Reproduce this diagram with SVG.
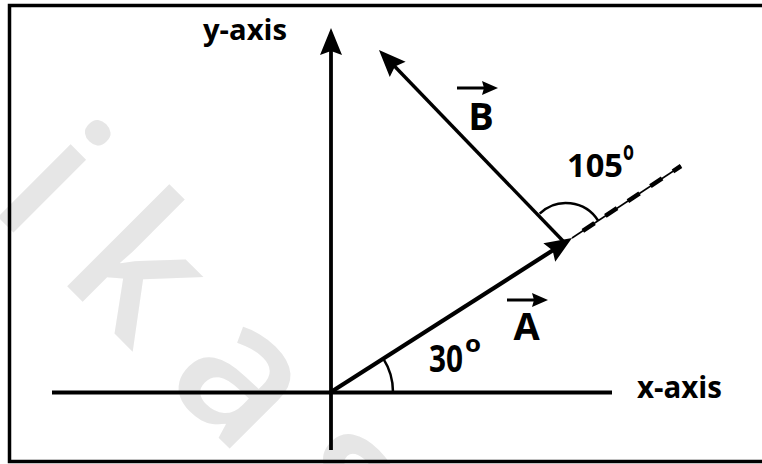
<svg xmlns="http://www.w3.org/2000/svg" width="762" height="464" viewBox="0 0 762 464">
<defs>
<style>
.lbl{font-family:"Open Sans","DejaVu Sans",sans-serif;font-weight:700;fill:#000}
.wm{font-family:"Open Sans","DejaVu Sans",sans-serif;font-weight:600;fill:#e6e6e6}
.ln{stroke:#000;fill:none}
.arc{stroke:#000;fill:none;stroke-width:2.5}
</style>
<marker id="head" markerUnits="userSpaceOnUse" orient="auto" refX="0" refY="0" markerWidth="40" markerHeight="30" viewBox="-20 -15 40 30" overflow="visible">
<path d="M10,0 L-17,-11 L-13,0 L-17,11 Z" fill="#000"/>
</marker>
<marker id="small" markerUnits="userSpaceOnUse" orient="auto" refX="0" refY="0" markerWidth="24" markerHeight="20" viewBox="-12 -10 24 20" overflow="visible">
<path d="M6,0 L-10,-7 L-8,0 L-10,7 Z" fill="#000"/>
</marker>
</defs>
<rect width="762" height="464" fill="#fff"/>
<g id="watermark" transform="translate(-13,206) rotate(45)">
<text class="wm" font-size="190" x="0 98 248 401" y="0">ikas</text>
</g>
<rect id="frame" x="9.5" y="5.5" width="760" height="456" fill="none" stroke="#000" stroke-width="3.5"/>
<g id="connectors">
<line id="x-axis-line" class="ln" x1="52" y1="392.5" x2="612" y2="392.5" stroke-width="3.8"/>
<line id="y-axis-line" class="ln" x1="331" y1="450" x2="331" y2="38" stroke-width="3.8" marker-end="url(#head)"/>
<line id="vector-A" class="ln" x1="331" y1="392" x2="563.6" y2="243.4" stroke-width="4.2" marker-end="url(#head)"/>
<line id="vector-B" class="ln" x1="564" y1="242" x2="385.9" y2="57.2" stroke-width="3.4" marker-end="url(#head)"/>
<line id="extension-thin" class="ln" x1="572" y1="238" x2="681" y2="166" stroke-width="1.5"/>
<line id="extension-dash" class="ln" x1="572" y1="238" x2="681" y2="166" stroke-width="4.5" stroke-dasharray="14 13" stroke-dashoffset="14"/>
<path id="arc-30" class="arc" d="M383.3,358.6 A62,62 0 0 1 393,392"/>
<path id="arc-105" class="arc" d="M539.7,213.6 A38,38 0 0 1 598,220.5"/>
<line id="arrow-over-A" class="ln" x1="507" y1="300" x2="542" y2="300" stroke-width="3" marker-end="url(#small)"/>
<line id="arrow-over-B" class="ln" x1="457" y1="88" x2="492" y2="88" stroke-width="3" marker-end="url(#small)"/>
</g>
<g id="label-y-axis"><text class="lbl" x="203" y="40" font-size="28" textLength="84" lengthAdjust="spacingAndGlyphs">y-axis</text></g>
<g id="label-x-axis"><text class="lbl" x="637" y="398" font-size="31" textLength="85" lengthAdjust="spacingAndGlyphs">x-axis</text></g>
<g id="label-A"><text class="lbl" x="526.5" y="340" font-size="38" text-anchor="middle">A</text></g>
<g id="label-B"><text class="lbl" x="481" y="130" font-size="38" text-anchor="middle">B</text></g>
<g id="label-30">
<text class="lbl" x="429" y="372" font-size="38" textLength="34" lengthAdjust="spacingAndGlyphs">30</text>
<text class="lbl" x="465" y="352" font-size="24" textLength="16" lengthAdjust="spacingAndGlyphs">o</text>
</g>
<g id="label-105">
<text class="lbl" x="567" y="177" font-size="33" textLength="56" lengthAdjust="spacingAndGlyphs">105</text>
<text class="lbl" x="623" y="160" font-size="26" textLength="11" lengthAdjust="spacingAndGlyphs">o</text>
</g>
</svg>
